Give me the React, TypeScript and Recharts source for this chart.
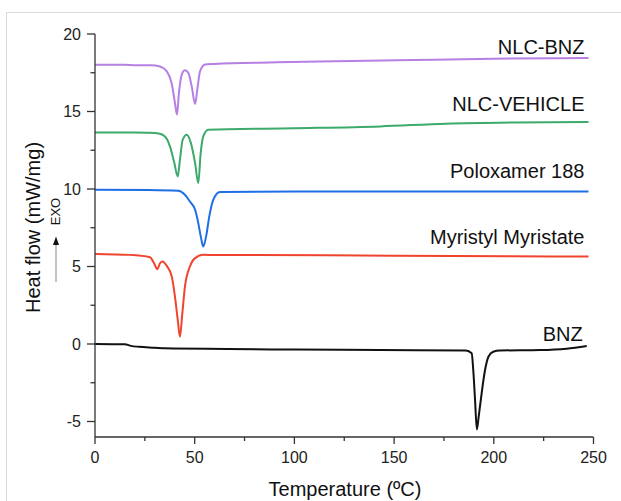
import { LineChart, Line, XAxis, YAxis, ReferenceDot } from "recharts"

type Pt = [number, number]

// temperature (ºC), heat flow (mW/mg)
const nlcBnz: Pt[] = [
  [0, 18.02], [15, 18.02], [20, 17.99], [28, 17.98], [32.6, 17.9], [36, 17.59], [38.4, 16.84],
  [40.1, 15.55], [41.1, 14.8], [42.1, 16.2], [43.5, 17.38], [45.1, 17.66], [46.8, 17.49],
  [48.5, 16.62], [50.2, 15.48], [51.3, 16.41], [52.7, 17.6], [55.2, 18.04], [60, 18.07],
  [91, 18.17], [120, 18.24], [151, 18.3], [200, 18.41], [247.5, 18.45],
]

const nlcVehicle: Pt[] = [
  [0, 13.65], [20, 13.65], [26, 13.63], [32, 13.58], [35.1, 13.39], [37.6, 12.75], [39.8, 11.67],
  [41.5, 10.81], [42.6, 11.89], [44, 13.18], [46, 13.5], [48.1, 12.96], [50.2, 11.67],
  [51.8, 10.38], [53, 12.32], [54.3, 13.39], [56.8, 13.82], [100, 13.92], [143, 14.04],
  [176, 14.21], [210, 14.29], [247.5, 14.32],
]

const poloxamer: Pt[] = [
  [0, 9.95], [27, 9.93], [41.8, 9.88], [45.1, 9.63], [47.6, 9.19], [50.2, 8.66], [51.8, 7.8],
  [53.2, 6.83], [54.3, 6.29], [55.7, 6.93], [57.3, 8.22], [59.3, 9.3], [62.7, 9.8],
  [100, 9.84], [247.5, 9.84],
]

const myristyl: Pt[] = [
  [0, 5.81], [17.6, 5.75], [27.6, 5.6], [29.6, 5.21], [31.3, 4.83], [32.6, 5.21], [33.9, 5.32],
  [36, 5.04], [38.5, 4.35], [40.1, 3.06], [41.5, 1.55], [42.6, 0.47], [43.8, 1.98], [45.1, 3.7],
  [47.6, 5.0], [50.2, 5.54], [54.3, 5.75], [61, 5.75], [150, 5.7], [247.5, 5.64],
]

const bnz: Pt[] = [
  [0, 0], [15, -0.02], [18, -0.12], [22, -0.18], [30, -0.24], [35, -0.28], [66, -0.32],
  [100, -0.36], [143, -0.39], [186, -0.42], [188.9, -0.6], [189.7, -1.68], [190.6, -3.62],
  [191.5, -5.51], [192.4, -4.7], [193.9, -3.18], [195.6, -1.68], [197.3, -0.82], [199.7, -0.5],
  [203.1, -0.42], [223.2, -0.39], [236.5, -0.3], [246.6, -0.13],
]

const xTicks = [0, 25, 50, 75, 100, 125, 150, 175, 200, 225, 250]
const yTicks = [-5, -2.5, 0, 2.5, 5, 7.5, 10, 12.5, 15, 17.5, 20]

const font = "'Liberation Sans', Arial, sans-serif"
const axisColor = "#333"

const series = [
  { name: "NLC-BNZ", data: nlcBnz, color: "#B67FE3", dy: -4 },
  { name: "NLC-VEHICLE", data: nlcVehicle, color: "#3BAA6B", dy: -11 },
  { name: "Poloxamer 188", data: poloxamer, color: "#1E6FE6", dy: -13 },
  { name: "Myristyl Myristate", data: myristyl, color: "#F0442E", dy: -13 },
  { name: "BNZ", data: bnz, color: "#111111", dy: -5 },
]

const rows = (pts: Pt[]) => pts.map(([t, v]) => ({ t, v }))

function XTick({ x, y, payload }: any) {
  const major = payload.value % 50 === 0
  return (
    <g>
      <line x1={x} x2={x} y1={y} y2={y + (major ? 7 : 4)} stroke={axisColor} strokeWidth={1.3} />
      {major && (
        <text x={x} y={y + 26} textAnchor="middle" fontSize={16} fill="#222" fontFamily={font}>
          {payload.value}
        </text>
      )}
    </g>
  )
}

function YTick({ x, y, payload }: any) {
  const major = payload.value % 5 === 0
  return (
    <g>
      <line x1={x - (major ? 8 : 4.5)} x2={x} y1={y} y2={y} stroke={axisColor} strokeWidth={1.3} />
      {major && (
        <text x={x - 14} y={y} dy="0.35em" textAnchor="end" fontSize={16} fill="#222" fontFamily={font}>
          {payload.value}
        </text>
      )}
    </g>
  )
}

export default function App() {
  return (
    <div style={{ position: "absolute", left: 0, top: 0, width: 621, height: 501, background: "#fff", overflow: "hidden", fontFamily: font }}>
      <div style={{ position: "absolute", left: 6, top: 12, width: 640, height: 520, borderTop: "1.5px solid #dcdcdc", borderLeft: "1.5px solid #dcdcdc" }} />
      <div style={{ position: "absolute", left: 0, top: 0 }}>
        <LineChart width={621} height={501} margin={{ top: 34, right: 27.5, left: 0, bottom: 0 }}>
          <XAxis
            dataKey="t"
            type="number"
            domain={[0, 250]}
            ticks={xTicks}
            interval={0}
            height={64}
            tickLine={false}
            tickSize={0}
            tickMargin={0}
            tick={<XTick />}
            axisLine={{ stroke: axisColor, strokeWidth: 1.3 }}
            allowDataOverflow
          />
          <YAxis
            type="number"
            domain={[-6, 20]}
            ticks={yTicks}
            interval={0}
            width={95}
            tickLine={false}
            tickSize={0}
            tickMargin={0}
            tick={<YTick />}
            axisLine={{ stroke: axisColor, strokeWidth: 1.3 }}
            allowDataOverflow
          />
          {series.map((s) => (
            <Line
              key={s.name}
              data={rows(s.data)}
              dataKey="v"
              type="monotone"
              stroke={s.color}
              strokeWidth={2}
              dot={false}
              isAnimationActive={false}
            />
          ))}
          {series.map((s) => {
            const [lt, lv] = s.data[s.data.length - 1]
            return (
              <ReferenceDot
                key={s.name + "-label"}
                x={lt}
                y={lv}
                r={0}
                shape={(p: any) => (
                  <text x={p.cx - 4} y={p.cy + s.dy} textAnchor="end" fontSize={20} fill="#111" fontFamily={font}>
                    {s.name}
                  </text>
                )}
              />
            )
          })}
        </LineChart>
      </div>
      <svg width={621} height={501} style={{ position: "absolute", left: 0, top: 0, pointerEvents: "none" }}>
        <text transform="translate(40,227.5) rotate(-90)" textAnchor="middle" fontSize={20} fill="#111" fontFamily={font}>
          Heat flow (mW/mg)
        </text>
        <text transform="translate(60,211.5) rotate(-90)" textAnchor="middle" fontSize={13} fill="#111" fontFamily={font}>
          EXO
        </text>
        <line x1={56} x2={56} y1={243} y2={282} stroke="#999" strokeWidth={1.2} />
        <polygon points="56,236.5 53,245 59,245" fill="#111" />
        <text x={345} y={496} textAnchor="middle" fontSize={20} fill="#111" fontFamily={font}>
          Temperature (ºC)
        </text>
      </svg>
    </div>
  )
}
